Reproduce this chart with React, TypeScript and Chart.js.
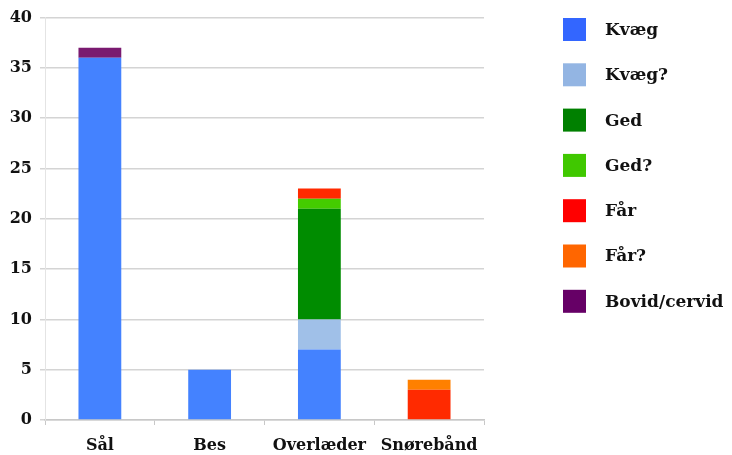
import React, { useEffect, useRef } from "react";
import { Chart, registerables } from "chart.js";

Chart.register(...registerables);

const categories = ["Sål", "Bes", "Overlæder", "Snørebånd"];
const seriesNames = ["Kvæg", "Kvæg?", "Ged", "Ged?", "Får", "Får?", "Bovid/cervid"];
const kvaeg = [36, 5, 7, 0];
const kvaegQ = [0, 0, 3, 0];
const ged = [0, 0, 11, 0];
const gedQ = [0, 0, 1, 0];
const faar = [0, 0, 1, 3];
const faarQ = [0, 0, 0, 1];
const bovid = [1, 0, 0, 0];
const seriesValues = [kvaeg, kvaegQ, ged, gedQ, faar, faarQ, bovid];
const barColors = ["#4482ff", "#a0c0e8", "#008c00", "#44cc00", "#ff2a00", "#ff8000", "#7a1a70"];
const legendColors = ["#3366ff", "#93b5e3", "#008000", "#40c800", "#ff0000", "#ff6600", "#660066"];
const yTicks = [0, 5, 10, 15, 20, 25, 30, 35, 40];

const FONT = "'DejaVu Serif', serif";

const sideLegend = {
  id: "sideLegend",
  afterDraw(chart: any) {
    const ctx = chart.ctx;
    const x0 = chart.width - 169;
    const y0 = 18;
    const step = 45.3;
    const box = 23;
    ctx.save();
    ctx.font = `bold 17px ${FONT}`;
    ctx.textBaseline = "middle";
    ctx.textAlign = "left";
    chart.data.datasets.forEach((ds: any, i: number) => {
      const y = y0 + i * step;
      ctx.fillStyle = legendColors[i];
      ctx.fillRect(x0, y, box, box);
      ctx.fillStyle = "#111";
      ctx.fillText(ds.label, x0 + 42, y + box / 2 + 1);
    });
    ctx.restore();
  },
};

export default function App() {
  const ref = useRef<HTMLCanvasElement | null>(null);
  useEffect(() => {
    if (!ref.current) return;
    const chart = new Chart(ref.current, {
      type: "bar",
      data: {
        labels: categories,
        datasets: seriesNames.map((name, i) => ({
          label: name,
          data: seriesValues[i],
          backgroundColor: barColors[i],
          borderWidth: 0,
          categoryPercentage: 1,
          barPercentage: 0.39,
        })),
      },
      options: {
        animation: false,
        responsive: false,
        maintainAspectRatio: false,
        layout: { padding: { top: 11, right: 248, bottom: 0, left: 4 } },
        plugins: {
          legend: { display: false },
          tooltip: { enabled: false },
        },
        scales: {
          x: {
            stacked: true,
            offset: true,
            afterFit: (scale: any) => {
              scale.height = 35;
            },
            grid: {
              offset: true,
              drawOnChartArea: false,
              drawTicks: true,
              tickLength: 5,
              color: "#c8c8c8",
            },
            border: { color: "#c8c8c8", width: 1.5 },
            ticks: {
              color: "#111",
              font: { family: FONT, size: 16, weight: "bold" },
              padding: 11,
            },
          },
          y: {
            stacked: true,
            min: 0,
            max: 40,
            afterFit: (scale: any) => {
              scale.width = 41;
            },
            afterBuildTicks: (axis: any) => {
              axis.ticks = yTicks.map((v) => ({ value: v }));
            },
            grid: { color: "#d4d4d4", lineWidth: 1.5, tickLength: 5 },
            border: { display: true, color: "#e4e4e4", width: 1 },
            ticks: {
              color: "#111",
              font: { family: FONT, size: 16, weight: "bold" },
              padding: 8,
            },
          },
        },
      },
      plugins: [sideLegend],
    });
    return () => chart.destroy();
  }, []);
  return (
    <div style={{ position: "fixed", left: 0, top: 0, width: 732, height: 455, background: "#fff" }}>
      <canvas ref={ref} width={732} height={455} style={{ width: 732, height: 455 }} />
    </div>
  );
}
